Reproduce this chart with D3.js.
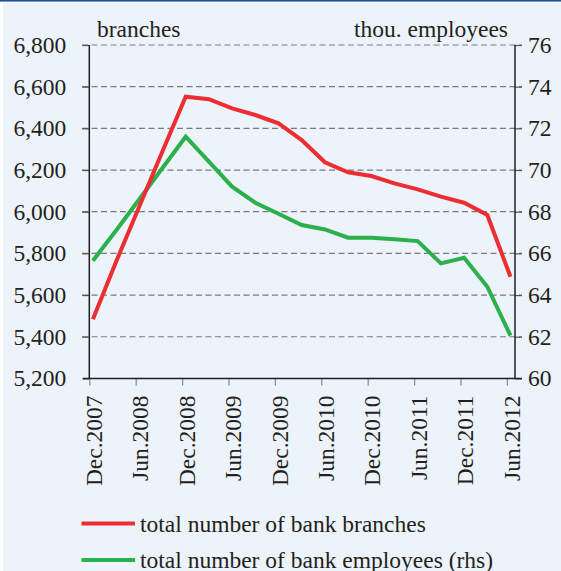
<!DOCTYPE html>
<html><head><meta charset="utf-8">
<script src="https://cdn.jsdelivr.net/npm/d3@7"></script>
<style>
html,body{margin:0;padding:0;background:#fff;}
svg{display:block;}
text{font-family:"Liberation Serif","DejaVu Serif",serif;fill:#231f20;}
</style></head>
<body>
<svg id="c" width="561" height="571"></svg>
<script>
const quarters = ["Dec.2007","Mar.2008","Jun.2008","Sep.2008","Dec.2008","Mar.2009","Jun.2009","Sep.2009","Dec.2009","Mar.2010","Jun.2010","Sep.2010","Dec.2010","Mar.2011","Jun.2011","Sep.2011","Dec.2011","Mar.2012","Jun.2012"];
const tickLabels = ["Dec.2007","Jun.2008","Dec.2008","Jun.2009","Dec.2009","Jun.2010","Dec.2010","Jun.2011","Dec.2011","Jun.2012"];
const branches = [5484,5760,6025,6290,6552,6540,6496,6464,6424,6344,6237,6189,6171,6136,6107,6072,6043,5984,5688];
const employees = [65.65,67.1,68.6,70.1,71.6,70.4,69.2,68.43,67.9,67.36,67.15,66.75,66.75,66.68,66.59,65.52,65.79,64.4,62.05];
const leftTicks = [5200,5400,5600,5800,6000,6200,6400,6600,6800];
const rightTicks = [60,62,64,66,68,70,72,74,76];
const legendLabels = ["total number of bank branches","total number of bank employees (rhs)"];
const colors = ["#ee2d32","#2bb04b"];

const FS = "23.5px";
const svg = d3.select("#c");
// background
svg.append("rect").attr("x",3).attr("y",3).attr("width",558).attr("height",568).attr("fill","#edf3fa");
svg.append("rect").attr("x",0).attr("y",0).attr("width",561).attr("height",1.6).attr("fill","#1f4e9b");

const L = 89.3, R = 515, T = 45, B = 378.4;
const yL = d3.scaleLinear().domain([5200,6800]).range([B,T]);
const yR = d3.scaleLinear().domain([60,76]).range([B,T]);
const step = 23.2;
const xData = d3.scaleLinear().domain([0,18]).range([92.9, 92.9+18*step]);
const xTick = d3.scaleLinear().domain([0,18]).range([L, L+18*step]);

// gridlines
const g = svg.append("g");
leftTicks.slice(1).forEach(v=>{
  g.append("line").attr("x1",82).attr("x2",522).attr("y1",yL(v)).attr("y2",yL(v))
   .attr("stroke","#7a7a7a").attr("stroke-width",1.2).attr("stroke-dasharray","6,3.5");
});

// axes
const axL = d3.axisLeft(yL).tickValues(leftTicks).tickFormat(d3.format(",")).tickSize(7).tickPadding(16);
const gL = svg.append("g").attr("transform",`translate(${L},0)`).call(axL);
const axR = d3.axisRight(yR).tickValues(rightTicks).tickSize(7).tickPadding(6);
const gR = svg.append("g").attr("transform",`translate(${R},0)`).call(axR);
[gL,gR].forEach(a=>{
  a.select(".domain").remove();
  a.selectAll(".tick line").attr("stroke","#555").attr("stroke-width",1.2);
  a.selectAll("text").style("font-size",FS).attr("fill","#231f20").style("font-family","'Liberation Serif',serif");
});
svg.append("line").attr("x1",L).attr("x2",L).attr("y1",T).attr("y2",B).attr("stroke","#231f20").attr("stroke-width",1.5);
svg.append("line").attr("x1",R).attr("x2",R).attr("y1",T).attr("y2",B).attr("stroke","#231f20").attr("stroke-width",1.5);

// x axis
const tickIdx = tickLabels.map(t=>quarters.indexOf(t));
const axB = d3.axisBottom(xTick).tickValues(tickIdx).tickFormat(i=>quarters[i]).tickSize(7).tickPadding(0);
const gB = svg.append("g").attr("transform",`translate(0,${B})`).call(axB);
gB.select(".domain").remove();
gB.selectAll(".tick line").attr("stroke","#888").attr("stroke-width",1.2);
gB.selectAll("text").style("font-size",FS).style("font-family","'Liberation Serif',serif")
  .attr("fill","#231f20").attr("text-anchor","end")
  .attr("transform","translate(4,17) rotate(-90)").attr("x",0).attr("y",0).attr("dy","0.35em");
svg.append("line").attr("x1",83).attr("x2",522).attr("y1",B).attr("y2",B).attr("stroke","#231f20").attr("stroke-width",1.5);

// lines
const lineL = d3.line().x((d,i)=>xData(i)).y(d=>yL(d));
const lineR = d3.line().x((d,i)=>xData(i)).y(d=>yR(d));
svg.append("path").datum(employees).attr("d",lineR).attr("fill","none").attr("stroke",colors[1]).attr("stroke-width",4).attr("stroke-linejoin","miter");
svg.append("path").datum(branches).attr("d",lineL).attr("fill","none").attr("stroke",colors[0]).attr("stroke-width",4).attr("stroke-linejoin","miter");

// axis titles
svg.append("text").attr("x",97).attr("y",36.5).style("font-size",FS).text("branches");
svg.append("text").attr("x",508).attr("y",36.5).attr("text-anchor","end").style("font-size",FS).text("thou. employees");

// legend
legendLabels.forEach((t,i)=>{
  const y = 523.5 + i*36.5;
  svg.append("line").attr("x1",81.5).attr("x2",135).attr("y1",y).attr("y2",y).attr("stroke",colors[i]).attr("stroke-width",4);
  svg.append("text").attr("x",140).attr("y",y+8).style("font-size",FS).text(t);
});
</script>
</body></html>
